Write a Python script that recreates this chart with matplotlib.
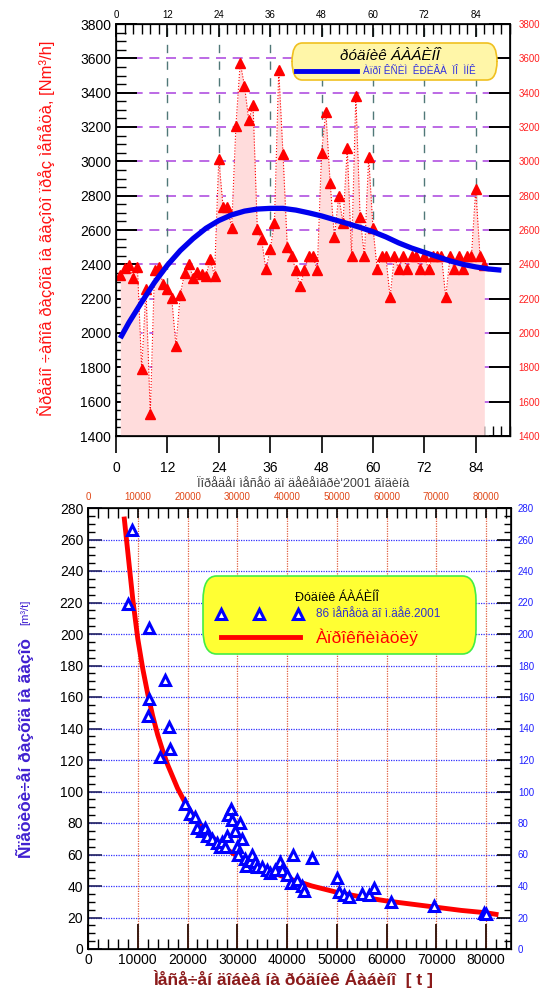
import matplotlib
matplotlib.use("Agg")
import matplotlib.pyplot as plt
from matplotlib.patches import FancyBboxPatch
from matplotlib.lines import Line2D
from matplotlib.ticker import MultipleLocator

plt.rcParams['font.family'] = ['Liberation Sans', 'DejaVu Sans']

# ---------------- data: top chart ----------------
months = list(range(1, 87))
hourly_gas = [2340, 2380, 2395, 2320, 2385, 1790, 2255, 1530, 2366, 2385,
              2283, 2254, 2205, 1925, 2224, 2347, 2403, 2321, 2356, 2345,
              2331, 2432, 2331, 3015, 2734, 2734, 2613, 3206, 3575, 3440,
              3240, 3330, 2603, 2545, 2370, 2487, 2641, 3530, 3041, 2500,
              2448, 2366, 2273, 2366, 2448, 2448, 2366, 3050, 3290, 2875,
              2559, 2798, 2641, 3076, 2448, 3380, 2675, 2448, 3024, 2613,
              2370, 2448, 2448, 2208, 2448, 2370, 2448, 2370, 2448, 2448,
              2370, 2448, 2370, 2448, 2448, 2448, 2208, 2448, 2370, 2448,
              2370, 2448, 2448, 2840, 2448, 2395]
fit_months = [1, 3, 6, 9, 12, 15, 18, 21, 24, 27, 30, 33, 36, 39, 42, 45,
              48, 51, 54, 57, 60, 63, 66, 69, 72, 75, 78, 81, 84, 87, 90]
fit_gas = [1970, 2060, 2180, 2295, 2395, 2480, 2550, 2610, 2655, 2688, 2710,
           2722, 2726, 2726, 2716, 2700, 2682, 2660, 2638, 2615, 2590, 2560,
           2525, 2495, 2470, 2445, 2420, 2400, 2385, 2373, 2366]

# ---------------- data: bottom chart ----------------
production = [8800, 8000, 12300, 12300, 12000, 14500, 15500, 16200, 16500,
              19500, 20500, 21500, 22000, 23000, 23500, 24000, 25000, 26000,
              26500, 27000, 27500, 28000, 28200, 28800, 29000, 29500, 30000,
              30200, 30500, 31000, 31500, 31800, 32500, 33000, 33500, 34000,
              35000, 36000, 36500, 37500, 38500, 39000, 40000, 40800, 41200,
              42000, 43000, 43500, 45000, 50000, 50500, 51500, 52500, 55000,
              56500, 57500, 60800, 69500, 79500, 80000]
specific = [266, 219, 204, 159, 148, 122, 171, 141, 127,
            92, 86, 84, 77, 75, 77, 72, 70, 67,
            65, 68, 65, 72, 85, 89, 82, 75, 65,
            60, 80, 70, 57, 53, 56, 60, 55, 52,
            52, 50, 48, 50, 55, 50, 47, 42, 60,
            44, 40, 37, 58, 45, 36, 34, 33, 35,
            34, 39, 30, 27, 23, 22]
fit_prod = [7300, 8000, 9000, 10000, 11000, 12000, 13000, 14000, 15000, 16000,
            18000, 20000, 22000, 24000, 26000, 28000, 30000, 33000, 36000,
            40000, 45000, 50000, 55000, 60000, 65000, 70000, 75000, 80000, 82000]
fit_spec = [273, 252, 222, 197, 178, 162, 148, 136, 126, 117,
            102, 90, 81, 74, 68, 63, 59, 54, 50,
            45, 40, 36, 33, 30.5, 28.5, 26.5, 24.5, 23, 22]

top_xticks = [0, 12, 24, 36, 48, 60, 72, 84]
top_yticks = list(range(1400, 3801, 200))
bot_xticks = list(range(0, 80001, 10000))
bot_yticks = list(range(0, 281, 20))

# ---------------- texts ----------------
top_ylabel = "Ñðåäíî ÷àñîâ ðàçõîä íà ãàçîòî ïðåç ìåñåöà, [Nm³/h]"
top_xlabel = "Ïîðåäåí ìåñåö äî äåêåìâðè'2001 ãîäèíà"
top_leg_title = "ðóäíèê ÁÀÁÈÍÎ"
top_leg_line = "Àïðî ÊÑÈÌ  ÊÐÈÂÀ  ÏÎ  ÌÍÊ"
bot_leg_title = "Ðóäíèê ÁÀÁÈÍÎ"
bot_leg_pts = "86 ìåñåöà äî ì.äåê.2001"
bot_leg_fit = "Àïðîêñèìàöèÿ"
bot_ylabel = "Ñïåöèôè÷åí ðàçõîä íà ãàçîò"
bot_yunit = "[m³/t]"
bot_xlabel = "Ìåñå÷åí äîáèâ íà ðóäíèê Áàáèíî  [ t ]"

W, H = 540, 990
fig = plt.figure(figsize=(W / 100, H / 100), dpi=100)


def rect(l, t, r, b):
    return [l / W, 1 - b / H, (r - l) / W, (b - t) / H]


# ================= TOP CHART =================
ax1 = fig.add_axes(rect(116, 24, 510, 436))
ax1.set_xlim(0, 92)
ax1.set_ylim(1400, 3800)
for y in top_yticks[1:-1]:
    ax1.axhline(y, color='#B050E0', lw=1.2, dashes=(6, 4), zorder=1)
for x in top_xticks[1:]:
    ax1.axvline(x, color='#507878', lw=1.0, dashes=(6, 6), zorder=1)
ax1.fill_between(months, hourly_gas, 1400, color='#FFDCDC', lw=0, zorder=2)
ax1.plot(months, hourly_gas, ls=':', color='red', lw=0.8, marker='^',
         ms=7, mfc='red', mec='red', zorder=4)
ax1.plot(fit_months, fit_gas, color='#0000EE', lw=3.8, zorder=5,
         solid_capstyle='butt')

ax1.set_xticks(top_xticks)
ax1.xaxis.set_minor_locator(MultipleLocator(2))
ax1.set_yticks(top_yticks)
ax1.yaxis.set_minor_locator(MultipleLocator(50))
ax1.tick_params(axis='x', which='major', direction='out', length=12,
                width=1.2, labelsize=10, pad=6, colors='black')
ax1.tick_params(axis='x', which='minor', direction='in', length=7, width=1.0,
                top=True)
ax1.tick_params(axis='y', which='major', direction='in', length=15,
                width=1.4, labelsize=10, right=True)
ax1.tick_params(axis='y', which='minor', direction='in', length=7, width=1.0,
                right=True)
for sp in ax1.spines.values():
    sp.set_linewidth(1.2)

ax1t = ax1.twiny()
ax1t.set_xlim(ax1.get_xlim())
ax1t.set_xticks(top_xticks)
ax1t.xaxis.set_minor_locator(MultipleLocator(2))
ax1t.tick_params(axis='x', which='major', direction='in', length=9, width=1.2,
                 labelsize=7, pad=3)
ax1t.tick_params(axis='x', which='minor', direction='in', length=7, width=1.0)

ax1r = ax1.twinx()
ax1r.set_ylim(ax1.get_ylim())
ax1r.set_yticks(top_yticks)
ax1r.tick_params(axis='y', which='major', direction='in', length=15,
                 width=1.4, labelsize=7, labelcolor='#FF2020', pad=6)

fig.text(46 / W, 1 - 228 / H, top_ylabel, rotation=90, color='#FF1010',
         fontsize=12, ha='center', va='center')
fig.text(303 / W, 1 - 484 / H, top_xlabel, color='#404040', fontsize=9,
         ha='center', va='center')

# top legend
leg1 = FancyBboxPatch((292 / W, 1 - 80 / H), (497 - 292) / W, (80 - 43) / H,
                      boxstyle='round,pad=0,rounding_size=0.019',
                      transform=fig.transFigure, fc='#FFF6A8', ec='#F0C020',
                      lw=1.2, zorder=10)
fig.add_artist(leg1)
fig.text(390 / W, 1 - 56 / H, top_leg_title, fontsize=11, ha='center',
         va='center', style='italic', color='black', zorder=11)
fig.add_artist(Line2D([296 / W, 357 / W], [1 - 71 / H, 1 - 71 / H],
                      transform=fig.transFigure, color='#0000EE', lw=3.5,
                      zorder=11))
fig.text(363 / W, 1 - 71 / H, top_leg_line, fontsize=7.2, ha='left',
         va='center', color='#3030E0', zorder=11)

# ================= BOTTOM CHART =================
ax2 = fig.add_axes(rect(88, 508, 511, 949))
ax2.set_xlim(0, 85000)
ax2.set_ylim(0, 280)
for y in bot_yticks[1:-1]:
    ax2.axhline(y, color='#3030FF', lw=0.9, ls=(0, (1, 1)), zorder=1)
for x in bot_xticks[1:]:
    ax2.axvline(x, color='#E06040', lw=0.9, ls=(0, (1, 1)), zorder=1)
ax2.plot(fit_prod, fit_spec, color='#FF0000', lw=3.5, zorder=3)
ax2.plot(production, specific, ls='none', marker='^', ms=6.5, mfc='white',
         mec='#0000FF', mew=2.2, zorder=4)

ax2.set_xticks(bot_xticks)
ax2.xaxis.set_minor_locator(MultipleLocator(2000))
ax2.set_yticks(bot_yticks)
ax2.yaxis.set_minor_locator(MultipleLocator(5))
ax2.tick_params(axis='x', which='major', direction='in', length=18, width=1.4,
                color='#3A1A10', labelsize=10, pad=3)
ax2.tick_params(axis='x', which='minor', direction='in', length=7, width=1.0)
ax2.tick_params(axis='y', which='major', direction='in', length=10, width=1.2,
                labelsize=10, color='#202060')
ax2.tick_params(axis='y', which='minor', direction='in', length=5, width=1.0)
for sp in ax2.spines.values():
    sp.set_linewidth(1.2)

ax2t = ax2.twiny()
ax2t.set_xlim(ax2.get_xlim())
ax2t.set_xticks(bot_xticks)
ax2t.xaxis.set_minor_locator(MultipleLocator(2000))
ax2t.tick_params(axis='x', which='major', direction='in', length=7, width=1.2,
                 labelsize=7, labelcolor='#E04818', pad=4)
ax2t.tick_params(axis='x', which='minor', direction='in', length=7, width=1.0)

ax2r = ax2.twinx()
ax2r.set_ylim(ax2.get_ylim())
ax2r.set_yticks(bot_yticks)
ax2r.yaxis.set_minor_locator(MultipleLocator(5))
ax2r.tick_params(axis='y', which='major', direction='in', length=10,
                 width=1.2, labelsize=7, labelcolor='#2020FF', pad=5)
ax2r.tick_params(axis='y', which='minor', direction='in', length=5, width=1.0)

fig.text(25 / W, 1 - 748 / H, bot_ylabel, rotation=90, color='#4020D0',
         fontsize=12.5, fontweight='bold', ha='center', va='center')
fig.text(25 / W, 1 - 612 / H, bot_yunit, rotation=90, color='#4020D0',
         fontsize=8, ha='center', va='center')
fig.text(293 / W, 1 - 988 / H, bot_xlabel, color='#8B1A1A', fontsize=12.5,
         fontweight='bold', ha='center', va='bottom')

# bottom legend
leg2 = FancyBboxPatch((203 / W, 1 - 654 / H), (476 - 203) / W, (654 - 576) / H,
                      boxstyle='round,pad=0,rounding_size=0.025',
                      transform=fig.transFigure, fc='#FFFF33', ec='#44EE44',
                      lw=1.2, zorder=10)
fig.add_artist(leg2)
fig.text(337 / W, 1 - 598 / H, bot_leg_title, fontsize=9, ha='center',
         va='center', color='black', zorder=11)
fig.add_artist(Line2D([221 / W, 259 / W, 298 / W], [1 - 614 / H] * 3,
                      transform=fig.transFigure, ls='none', marker='^',
                      ms=6.5, mfc='white', mec='#0000FF', mew=2.2, zorder=11))
fig.text(316 / W, 1 - 614 / H, bot_leg_pts, fontsize=8.5, ha='left',
         va='center', color='#3030D0', zorder=11)
fig.add_artist(Line2D([221 / W, 300 / W], [1 - 637 / H] * 2,
                      transform=fig.transFigure, color='#FF0000', lw=3.5,
                      zorder=11))
fig.text(316 / W, 1 - 637 / H, bot_leg_fit, fontsize=12.5, ha='left',
         va='center', color='#FF0000', zorder=11)

fig.savefig('out.png', dpi=100)
